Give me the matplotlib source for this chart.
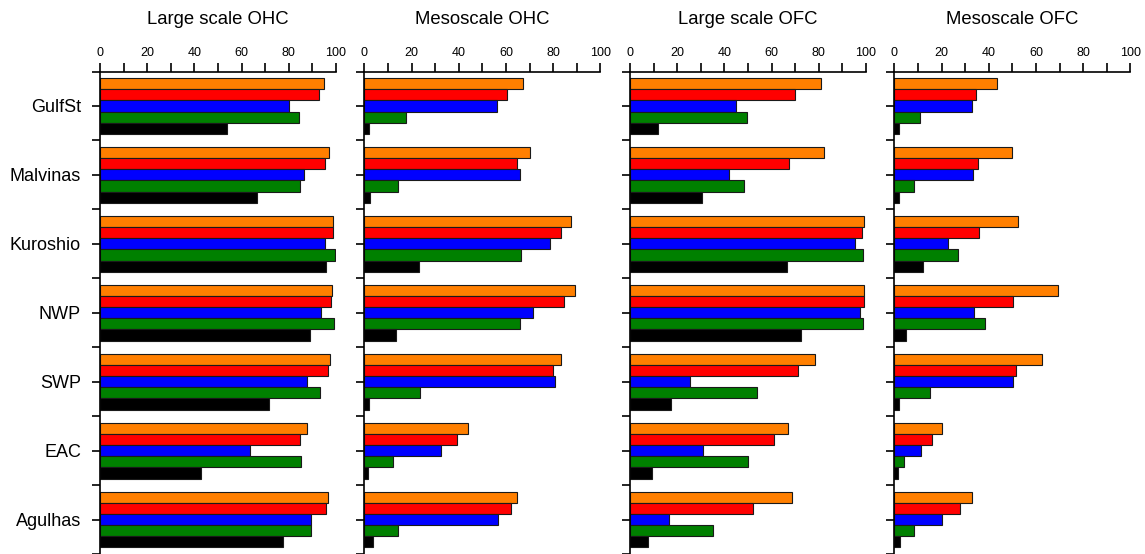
import matplotlib
matplotlib.use("Agg")
import matplotlib.pyplot as plt
import numpy as np

plt.rcParams["font.family"] = ["Liberation Sans", "DejaVu Sans"]

# regions, top to bottom
regions = ["GulfSt", "Malvinas", "Kuroshio", "NWP", "SWP", "EAC", "Agulhas"]
titles = ["Large scale OHC", "Mesoscale OHC", "Large scale OFC", "Mesoscale OFC"]
colors = ["#ff7f00", "#ff0000", "#0000ff", "#008000", "#000000"]

# one row per colour (orange, red, blue, green, black), one value per region
large_ohc = [
    [94.8, 97.0, 98.9, 98.3, 97.3, 87.7, 96.5],
    [92.9, 95.2, 98.6, 97.7, 96.5, 84.6, 95.8],
    [80.2, 86.4, 95.2, 93.5, 87.7, 63.4, 89.3],
    [84.3, 84.6, 99.6, 99.3, 93.2, 85.3, 89.3],
    [54.0, 66.7, 95.9, 89.1, 71.5, 42.7, 77.5],
]
meso_ohc = [
    [67.2, 70.3, 87.7, 89.4, 83.4, 43.9, 64.5],
    [60.6, 64.8, 83.4, 84.8, 80.0, 39.2, 62.1],
    [56.2, 65.9, 78.5, 71.5, 81.0, 32.7, 56.8],
    [17.5, 14.4, 66.3, 65.9, 23.7, 12.3, 14.4],
    [1.8, 2.5, 23.0, 13.5, 2.1, 1.5, 3.5],
]
large_ofc = [
    [80.9, 82.2, 99.0, 99.3, 78.6, 66.8, 68.5],
    [69.9, 67.5, 98.3, 99.2, 71.1, 61.1, 52.1],
    [45.0, 42.0, 95.3, 97.5, 25.5, 31.1, 16.4],
    [49.6, 48.4, 98.6, 98.7, 53.9, 49.9, 35.1],
    [11.7, 30.3, 66.6, 72.4, 17.5, 9.2, 7.6],
]
meso_ofc = [
    [43.5, 49.7, 52.4, 69.2, 62.7, 20.1, 33.0],
    [34.5, 35.5, 36.1, 50.3, 51.5, 15.8, 28.0],
    [33.1, 33.2, 22.7, 33.9, 50.1, 11.5, 20.4],
    [11.1, 8.2, 27.2, 38.6, 15.2, 4.2, 8.2],
    [2.1, 1.8, 12.1, 5.1, 2.0, 1.4, 2.5],
]
panels = [large_ohc, meso_ohc, large_ofc, meso_ofc]

W, H = 1145, 554
fig = plt.figure(figsize=(W / 100, H / 100), dpi=100)

lefts = [100, 364.3, 630, 894.3]
pw = 236
top = 71.5
bar_h = 0.162
ypos = np.arange(len(regions))

for i, (data, title) in enumerate(zip(panels, titles)):
    ax = fig.add_axes([lefts[i] / W, 0, pw / W, 1 - top / H])
    for k, vals in enumerate(data):
        ax.barh(ypos + (k - 2) * bar_h, vals, height=bar_h, color=colors[k],
                edgecolor="#1a1a1a", linewidth=0.8)
    ax.set_xlim(0, 100)
    ax.set_ylim(6.47, -0.5)

    ax.spines["right"].set_visible(False)
    ax.spines["bottom"].set_visible(False)
    ax.spines["top"].set_linewidth(1.2)
    ax.spines["left"].set_linewidth(1.2)

    ax.xaxis.tick_top()
    ax.set_xticks(np.arange(0, 101, 20))
    ax.set_xticks(np.arange(10, 100, 20), minor=True)
    ax.tick_params(axis="x", which="both", direction="out", length=9 * 0.72,
                   width=1.2, labelsize=9, pad=2.8)

    ax.set_yticks(ypos)
    ax.set_yticks(np.arange(-0.5, 7, 1), minor=True)
    ax.tick_params(axis="y", which="both", direction="out", length=8 * 0.72,
                   width=1.2, labelsize=13, pad=8)
    if i == 0:
        ax.set_yticklabels(regions)
    else:
        ax.set_yticklabels([])

    cx = (lefts[i] + pw / 2) / W
    fig.text(cx, 1 - 20 / H, title, ha="center", va="center", fontsize=13.3)

fig.savefig("out.png", dpi=100)
